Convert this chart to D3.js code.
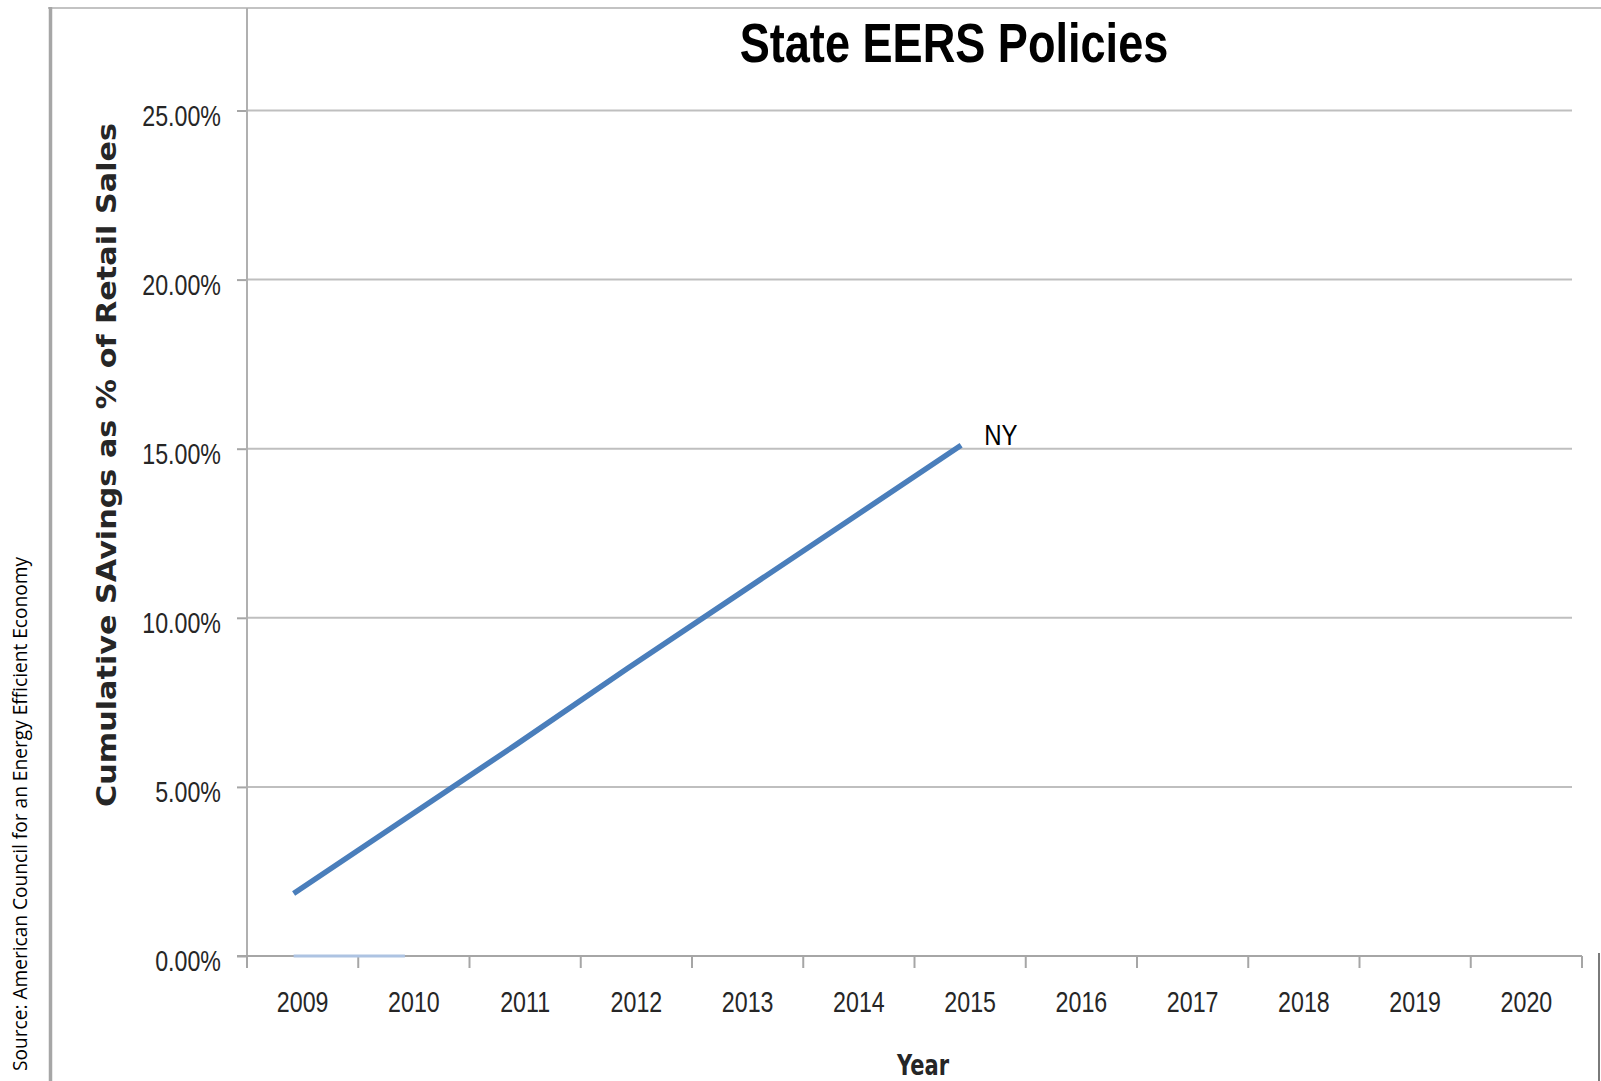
<!DOCTYPE html>
<html>
<head>
<meta charset="utf-8">
<script src="https://cdn.jsdelivr.net/npm/d3@7"></script>
<style>
  html, body { margin: 0; padding: 0; background: #fff; }
  svg { display: block; }
  .narrow { font-family: "Liberation Sans", Arial, sans-serif; }
</style>
</head>
<body>
<div id="root"></div>
<script>
// Chart data
const years = ["2009", "2010", "2011", "2012", "2013", "2014", "2015", "2016", "2017", "2018", "2019", "2020"];
const nyYears = ["2009", "2010", "2011", "2012", "2013", "2014", "2015"];
const nyValues = [1.85, 4.05, 6.25, 8.5, 10.7, 12.9, 15.1];
const otherYears = ["2009", "2010"];
const otherValues = [0, 0];
const yTicks = [0, 5, 10, 15, 20, 25];

const chartTitle = "State EERS Policies";
const yTitle = "Cumulative SAvings as % of Retail Sales";
const xTitle = "Year";
const sourceText = "Source: American Council for an Energy Efficient Economy";

// Size of the page
const width = 1601;
const height = 1081;

const svg = d3
  .select("#root")
  .append("svg")
  .attr("width", width)
  .attr("height", height);

// squeeze text horizontally (the original chart looks narrow)
function squeeze(selection, k) {
  selection.each(function() {
    const len = this.getComputedTextLength();
    d3.select(this)
      .attr("textLength", len * k)
      .attr("lengthAdjust", "spacingAndGlyphs");
  });
}

// Scales
const xScale = d3.scaleBand().domain(years).range([247, 1582]).padding(0);
const yScale = d3.scaleLinear().domain([0, 25]).range([956, 110.5]);

// Outer frame
svg.append("line")
  .attr("x1", 48).attr("x2", width)
  .attr("y1", 8).attr("y2", 8)
  .attr("stroke", "#c3c3c3").attr("stroke-width", 2);

svg.append("line")
  .attr("x1", 50.5).attr("x2", 50.5)
  .attr("y1", 7).attr("y2", height)
  .attr("stroke", "#a6a6a6").attr("stroke-width", 3.5);

svg.append("line")
  .attr("x1", 1599).attr("x2", 1599)
  .attr("y1", 953).attr("y2", height)
  .attr("stroke", "#7a7a7a").attr("stroke-width", 2);

// Gridlines
svg.append("g")
  .selectAll("line")
  .data(yTicks.filter(d => d > 0))
  .enter()
  .append("line")
  .attr("x1", 247)
  .attr("x2", 1572)
  .attr("y1", d => yScale(d))
  .attr("y2", d => yScale(d))
  .attr("stroke", "#bfbfbf")
  .attr("stroke-width", 2);

// Y axis
const yAxis = d3.axisLeft(yScale)
  .tickValues(yTicks)
  .tickSize(10)
  .tickPadding(16)
  .tickFormat(d => d3.format(".2f")(d) + "%");

const yG = svg.append("g")
  .attr("class", "y-axis narrow")
  .attr("transform", "translate(247,0)")
  .call(yAxis);

yG.select(".domain").remove();
yG.selectAll(".tick line").attr("stroke", "#a6a6a6").attr("stroke-width", 2);
yG.selectAll(".tick text")
  .attr("font-size", 29)
  .attr("fill", "#262626")
  .attr("dy", "0.5em")
  .call(squeeze, 0.8);

svg.append("line")
  .attr("x1", 247).attr("x2", 247)
  .attr("y1", 8).attr("y2", 968)
  .attr("stroke", "#b0b0b0").attr("stroke-width", 2);

// X axis
const xAxis = d3.axisBottom(xScale).tickSize(0).tickPadding(0);

const xG = svg.append("g")
  .attr("class", "x-axis narrow")
  .attr("transform", "translate(0,956)")
  .call(xAxis);

xG.select(".domain").remove();
xG.selectAll(".tick text")
  .attr("font-size", 29)
  .attr("fill", "#262626")
  .attr("y", 56)
  .attr("dy", 0)
  .call(squeeze, 0.8);

svg.append("line")
  .attr("x1", 237).attr("x2", 1582)
  .attr("y1", 956).attr("y2", 956)
  .attr("stroke", "#a6a6a6").attr("stroke-width", 2);

svg.append("g")
  .selectAll("line")
  .data(years.map(d => xScale(d)).concat([xScale.range()[1]]))
  .enter()
  .append("line")
  .attr("x1", d => d).attr("x2", d => d)
  .attr("y1", 956).attr("y2", 968)
  .attr("stroke", "#a6a6a6").attr("stroke-width", 2);

// Lines
const lineShift = -9;
const line = d3.line()
  .x(d => xScale(d.year) + xScale.bandwidth() / 2 + lineShift)
  .y(d => yScale(d.value));

const otherData = otherYears.map((y, i) => ({ year: y, value: otherValues[i] }));
const nyData = nyYears.map((y, i) => ({ year: y, value: nyValues[i] }));

svg.append("path")
  .datum(otherData)
  .attr("fill", "none")
  .attr("stroke", "#adc3e2")
  .attr("stroke-width", 3)
  .attr("d", line);

svg.append("path")
  .datum(nyData)
  .attr("fill", "none")
  .attr("stroke", "#4a7ebb")
  .attr("stroke-width", 5.5)
  .attr("d", line);

// NY label
const last = nyData[nyData.length - 1];
svg.append("text")
  .attr("class", "narrow")
  .attr("x", xScale(last.year) + xScale.bandwidth() / 2 + lineShift + 23)
  .attr("y", yScale(last.value))
  .attr("font-size", 30)
  .attr("fill", "#000")
  .text("NY")
  .call(squeeze, 0.8);

// Titles
svg.append("text")
  .attr("class", "narrow")
  .attr("x", 954)
  .attr("y", 62)
  .attr("text-anchor", "middle")
  .attr("font-size", 55)
  .attr("font-weight", "bold")
  .attr("fill", "#000")
  .text(chartTitle)
  .call(squeeze, 0.82);

svg.append("text")
  .attr("transform", "translate(116,465) rotate(-90)")
  .attr("text-anchor", "middle")
  .attr("font-family", "'DejaVu Sans', sans-serif")
  .attr("font-size", 26)
  .attr("font-weight", "bold")
  .attr("fill", "#262626")
  .attr("textLength", 684)
  .attr("lengthAdjust", "spacingAndGlyphs")
  .text(yTitle);

svg.append("text")
  .attr("x", 923)
  .attr("y", 1075)
  .attr("text-anchor", "middle")
  .attr("font-family", "'DejaVu Sans', sans-serif")
  .attr("font-size", 29)
  .attr("font-weight", "bold")
  .attr("fill", "#262626")
  .attr("textLength", 52)
  .attr("lengthAdjust", "spacingAndGlyphs")
  .text(xTitle);

svg.append("text")
  .attr("transform", "translate(27,814) rotate(-90)")
  .attr("text-anchor", "middle")
  .attr("font-family", "'Open Sans', sans-serif")
  .attr("font-size", 20)
  .attr("fill", "#000")
  .attr("textLength", 514)
  .attr("lengthAdjust", "spacingAndGlyphs")
  .text(sourceText);
</script>
</body>
</html>
